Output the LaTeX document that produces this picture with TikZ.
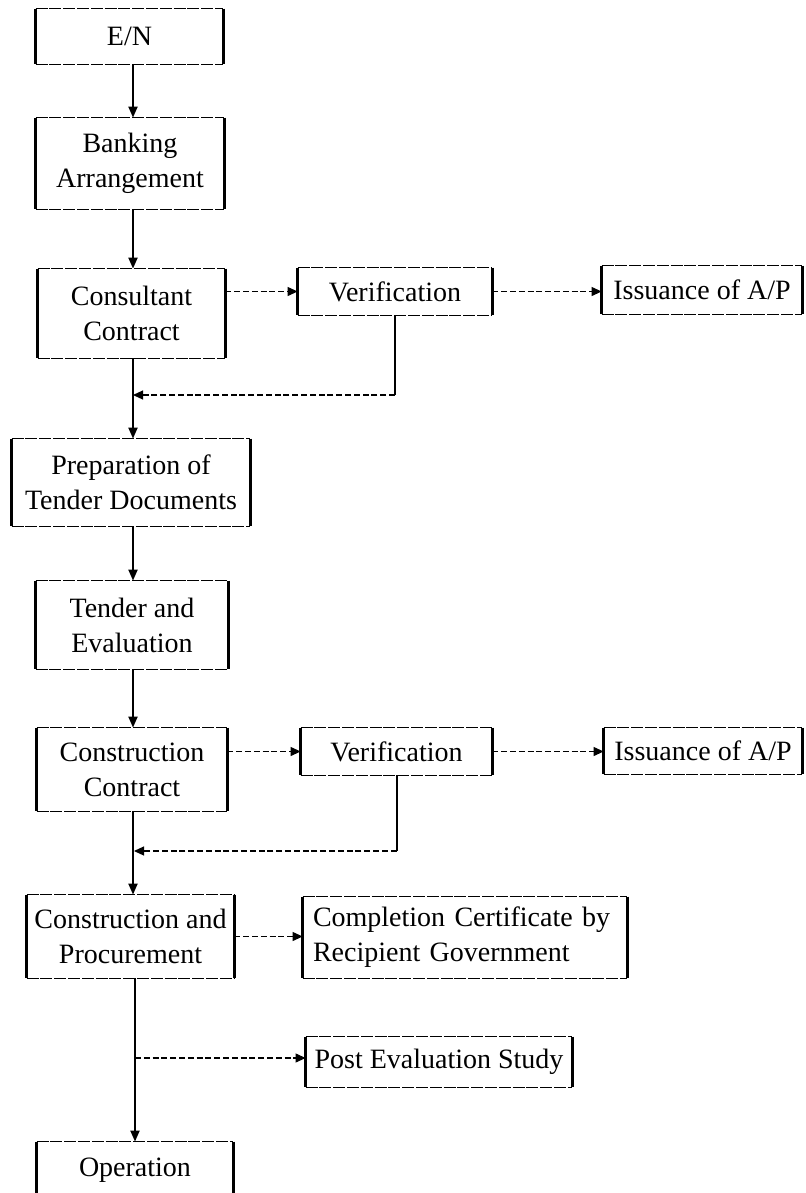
\documentclass[tikz,border=0pt]{standalone}
\usepackage{fontspec}
\setmainfont{Liberation Serif}
\usetikzlibrary{arrows.meta}

\tikzset{
  stepbox/.style={inner sep=0pt, align=center, font=\fontsize{14}{17.5}\selectfont},
  sideline/.style={line width=1.3pt},
  edgeline/.style={line width=0.55pt, dash pattern=on 6pt off 0.9pt},
  flow/.style={line width=1pt, -{Triangle[length=5.5pt,width=4.5pt]}},
  trunk/.style={line width=1pt},
  feed/.style={line width=0.55pt, dash pattern=on 3pt off 1.4pt, -{Triangle[length=5pt,width=4.5pt]}},
}

% frame of a box: heavy vertical sides, light broken top and bottom
\newcommand\outlinebox[1]{%
  \draw[sideline] (#1.north west) -- (#1.south west);
  \draw[sideline] (#1.north east) -- (#1.south east);
  \draw[edgeline] (#1.north west) -- (#1.north east);
  \draw[edgeline] (#1.south west) -- (#1.south east);
}

\begin{document}
\begin{tikzpicture}[x=0.5pt,y=-0.5pt]
\useasboundingbox (0,0) rectangle (805,1193);
\clip (0,0) rectangle (805,1193);

% main column
\node[stepbox, minimum width=93.5pt, minimum height=27.5pt] (en)   at (129.5,36.5) {E/N};
\node[stepbox, minimum width=94pt,   minimum height=45.5pt] (bank) at (130,163.5) {Banking\\Arrangement};
\node[stepbox, minimum width=93.5pt, minimum height=44.5pt] (cons) at (131.5,313.5) {Consultant\\Contract};
\node[stepbox, minimum width=119pt,  minimum height=43.5pt] (prep) at (131,482.5) {Preparation of\\Tender Documents};
\node[stepbox, minimum width=96pt,   minimum height=44pt]   (tend) at (132,625) {Tender and\\Evaluation};
\node[stepbox, minimum width=95pt,   minimum height=41.5pt] (cc)   at (132,769.5) {Construction\\Contract};
\node[stepbox, minimum width=103.5pt,minimum height=41.5pt] (cp)   at (130.5,936.5) {Construction and\\Procurement};
\node[stepbox, minimum width=98pt,   minimum height=28pt]   (op)   at (135,1170) {Operation};

% side boxes
\node[stepbox, minimum width=97pt,   minimum height=23.5pt] (v1)   at (395,291.5) {Verification};
\node[stepbox, minimum width=100pt,  minimum height=24pt]   (i1)   at (702,290) {Issuance of A/P};
\node[stepbox, minimum width=95.5pt, minimum height=23.5pt] (v2)   at (396.5,751.5) {Verification};
\node[stepbox, minimum width=99pt,   minimum height=23pt]   (i2)   at (703,751) {Issuance of A/P};
\node[stepbox, inner xsep=5pt, text width=152pt, align=left, minimum height=40.5pt] (comp) at (465,937.5)
  {Completion Certificate by\\Recipient Government};
\node[stepbox, minimum width=133pt,  minimum height=25pt]   (post) at (439,1062) {Post Evaluation Study};

\foreach \b in {en,bank,cons,prep,tend,cc,cp,op,v1,i1,v2,i2,comp,post}{\outlinebox{\b}}

% spine positions and junctions
\coordinate (spine)  at (133,0);
\coordinate (spineb) at (135,0);
\coordinate (j1) at (133,395);
\coordinate (j2) at (134,851);
\coordinate (j3) at (135,1058);

% vertical flow
\draw[flow] (en.south -| spine)   -- (bank.north -| spine);
\draw[flow] (bank.south -| spine) -- (cons.north -| spine);
\draw[flow] (cons.south -| spine) -- (prep.north -| spine);
\draw[flow] (prep.south -| spine) -- (tend.north -| spine);
\draw[flow] (tend.south -| spine) -- (cc.north -| spine);
\draw[flow] (cc.south -| spine)   -- (cp.north -| spine);
\draw[flow] (cp.south -| spineb)  -- (op.north -| spineb);

% consultant branch
\draw[feed] (cons.east |- v1.west) -- (v1.west);
\draw[feed] (v1.east) -- (i1.west |- v1.east);
\draw[trunk] (v1.south) -- (v1.south |- j1);
\draw[feed] (v1.south |- j1) -- (j1);

% construction branch
\draw[feed] (cc.east |- v2.west) -- (v2.west);
\draw[feed] (v2.east) -- (i2.west |- v2.east);
\draw[trunk] (v2.south) -- (v2.south |- j2);
\draw[feed] (v2.south |- j2) -- (j2);

% completion and post evaluation
\draw[feed] (cp.east) -- (comp.west |- cp.east);
\draw[feed] (j3) -- (post.west |- j3);
\end{tikzpicture}
\end{document}
